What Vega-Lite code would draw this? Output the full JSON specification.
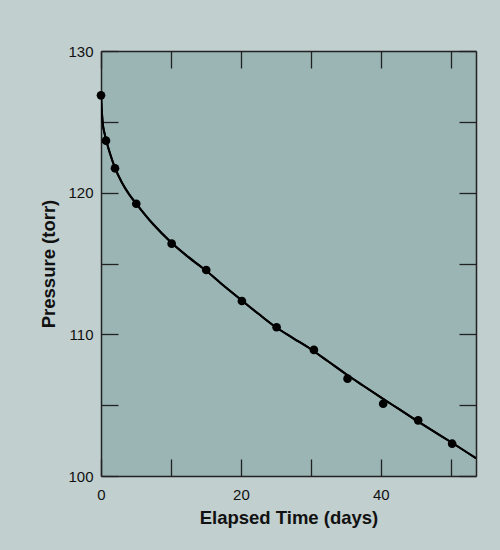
{
  "$schema": "https://vega.github.io/schema/vega-lite/v6.json",
  "width": 375,
  "height": 425,
  "autosize": {"type": "none"},
  "padding": {"left": 101, "top": 51, "right": 24, "bottom": 74},
  "background": "#c1cfcf",
  "config": {
    "view": {"fill": "#9bb4b4", "stroke": null},
    "font": "Liberation Sans",
    "axis": {
      "grid": false,
      "domainColor": "#222222",
      "domainWidth": 1.5,
      "tickColor": "#222222",
      "tickWidth": 1.3,
      "labelFont": "Liberation Sans",
      "labelFontSize": 15,
      "labelColor": "#111111",
      "labelFlush": false,
      "titleFont": "Liberation Sans",
      "titleFontSize": 18.5,
      "titleFontWeight": "bold",
      "titleColor": "#111111"
    }
  },
  "datasets": {
    "measured": [
      {"t": 0, "p": 126.87},
      {"t": 0.71, "p": 123.67},
      {"t": 2.0, "p": 121.72},
      {"t": 5.04, "p": 119.22},
      {"t": 10.1, "p": 116.4},
      {"t": 15.04, "p": 114.54},
      {"t": 20.14, "p": 112.35},
      {"t": 25.1, "p": 110.5},
      {"t": 30.43, "p": 108.9},
      {"t": 35.24, "p": 106.87},
      {"t": 40.33, "p": 105.1},
      {"t": 45.33, "p": 103.93},
      {"t": 50.19, "p": 102.28}
    ],
    "fit": [
      {"t": 0, "p": 126.9},
      {"t": 0.1, "p": 125.9},
      {"t": 0.25, "p": 124.9},
      {"t": 0.5, "p": 124.2},
      {"t": 0.8, "p": 123.6},
      {"t": 1.3, "p": 122.75},
      {"t": 2, "p": 121.75},
      {"t": 3, "p": 120.7},
      {"t": 4, "p": 119.9},
      {"t": 5, "p": 119.25},
      {"t": 7.5, "p": 117.75},
      {"t": 10, "p": 116.5},
      {"t": 12.5, "p": 115.45},
      {"t": 15, "p": 114.5},
      {"t": 17.5, "p": 113.45},
      {"t": 20, "p": 112.45},
      {"t": 22.5, "p": 111.45},
      {"t": 25, "p": 110.5},
      {"t": 27.5, "p": 109.72},
      {"t": 30, "p": 108.95},
      {"t": 32.5, "p": 108.08},
      {"t": 35, "p": 107.2},
      {"t": 37.5, "p": 106.37},
      {"t": 40, "p": 105.55},
      {"t": 42.5, "p": 104.75},
      {"t": 45, "p": 103.95},
      {"t": 47.5, "p": 103.17},
      {"t": 50, "p": 102.4},
      {"t": 53.6, "p": 101.25}
    ]
  },
  "layer": [
    {
      "data": {"name": "fit"},
      "mark": {"type": "line", "color": "black", "strokeWidth": 2, "interpolate": "monotone", "clip": true},
      "encoding": {
        "x": {
          "field": "t", "type": "quantitative",
          "scale": {"domain": [0, 53.6], "nice": false, "zero": false},
          "axis": {
            "orient": "bottom",
            "title": "Elapsed Time (days)",
            "values": [0, 10, 20, 30, 40, 50],
            "labelExpr": "datum.value % 20 == 0 ? datum.label : ''",
            "tickSize": -17,
            "labelPadding": 28,
            "titleY": 32
          }
        },
        "y": {
          "field": "p", "type": "quantitative",
          "scale": {"domain": [100, 130], "nice": false, "zero": false},
          "axis": {
            "orient": "left",
            "title": "Pressure (torr)",
            "values": [100, 105, 110, 115, 120, 125, 130],
            "labelExpr": "datum.value % 10 == 0 ? datum.label : ''",
            "tickSize": -17,
            "labelPadding": 25,
            "titleX": -43
          }
        }
      }
    },
    {
      "data": {"name": "fit"},
      "mark": {"type": "line", "color": "black", "strokeWidth": 2, "interpolate": "monotone", "clip": true},
      "encoding": {
        "x": {
          "field": "t", "type": "quantitative",
          "axis": {
            "orient": "top",
            "title": null,
            "labels": false,
            "values": [0, 10, 20, 30, 40, 50],
            "tickSize": -17
          }
        },
        "y": {
          "field": "p", "type": "quantitative",
          "axis": {
            "orient": "right",
            "title": null,
            "labels": false,
            "values": [100, 105, 110, 115, 120, 125, 130],
            "tickSize": -17
          }
        }
      }
    },
    {
      "data": {"name": "measured"},
      "mark": {"type": "point", "filled": true, "color": "black", "opacity": 1, "size": 75},
      "encoding": {
        "x": {"field": "t", "type": "quantitative", "axis": null},
        "y": {"field": "p", "type": "quantitative", "axis": null}
      }
    }
  ],
  "resolve": {"axis": {"x": "independent", "y": "independent"}}
}
